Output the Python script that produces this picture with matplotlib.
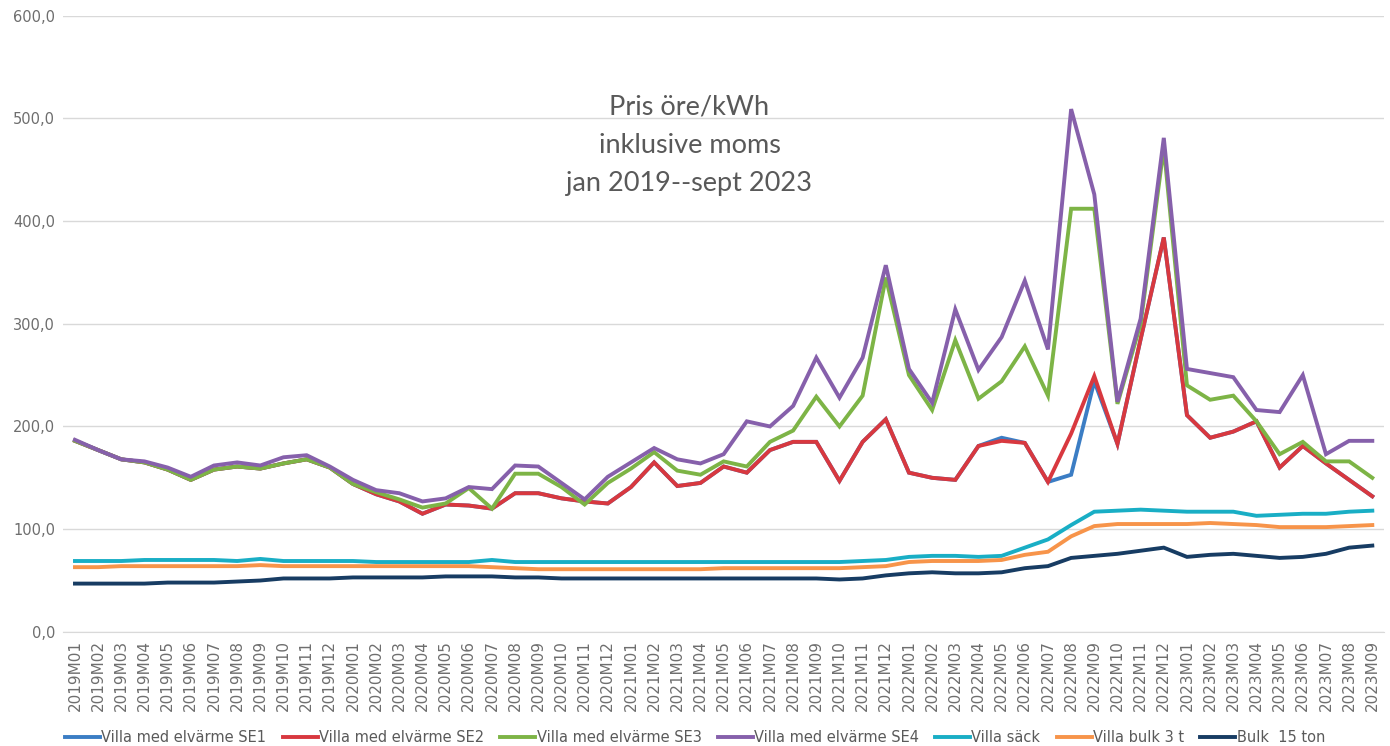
import matplotlib
matplotlib.use('Agg')
import matplotlib.pyplot as plt
import numpy as np

# Months 2019M01 .. 2023M09
months = [f'{y}M{m:02d}' for y in range(2019, 2024) for m in range(1, 13)][:57]

# Pris öre/kWh inkl. moms
se4 = [187, 177, 168, 166, 160, 151, 162, 165, 162, 170, 172, 161,
       148, 138, 135, 127, 130, 141, 139, 162, 161, 145, 129, 151,
       165, 179, 168, 164, 173, 205, 200, 220, 267, 228, 267, 357,
       256, 223, 314, 255, 287, 342, 275, 509, 426, 224, 305, 481,
       256, 252, 248, 216, 214, 250, 173, 186, 186]
se3 = [186, 177, 168, 165, 158, 148, 158, 161, 159, 164, 168, 160,
       144, 136, 129, 121, 125, 140, 120, 154, 154, 141, 124, 145,
       159, 175, 157, 153, 166, 161, 185, 196, 229, 200, 230, 345,
       250, 216, 284, 227, 244, 278, 230, 412, 412, 222, 300, 472,
       240, 226, 230, 205, 173, 185, 166, 166, 150]
se2 = [186, 177, 168, 165, 158, 148, 158, 161, 159, 164, 168, 160,
       144, 134, 127, 115, 124, 123, 120, 135, 135, 130, 127, 125,
       141, 165, 142, 145, 161, 155, 177, 185, 185, 147, 185, 207,
       155, 150, 148, 181, 186, 184, 146, 193, 249, 183, 285, 384,
       211, 189, 195, 205, 160, 181, 164, 148, 132]
se1 = [186, 177, 168, 165, 158, 148, 158, 161, 159, 164, 168, 160,
       144, 134, 127, 115, 124, 123, 120, 135, 135, 130, 127, 125,
       141, 165, 142, 145, 161, 155, 177, 185, 185, 147, 185, 207,
       155, 150, 148, 181, 189, 184, 146, 153, 244, 183, 285, 384,
       211, 189, 195, 205, 160, 181, 164, 148, 132]
sack = [69, 69, 69, 70, 70, 70, 70, 69, 71, 69, 69, 69,
        69, 68, 68, 68, 68, 68, 70, 68, 68, 68, 68, 68,
        68, 68, 68, 68, 68, 68, 68, 68, 68, 68, 69, 70,
        73, 74, 74, 73, 74, 82, 90, 104, 117, 118, 119, 118,
        117, 117, 117, 113, 114, 115, 115, 117, 118]
bulk3 = [63, 63, 64, 64, 64, 64, 64, 64, 65, 64, 64, 64,
         64, 64, 64, 64, 64, 64, 63, 62, 61, 61, 61, 61,
         61, 61, 61, 61, 62, 62, 62, 62, 62, 62, 63, 64,
         68, 69, 69, 69, 70, 75, 78, 93, 103, 105, 105, 105,
         105, 106, 105, 104, 102, 102, 102, 103, 104]
bulk15 = [47, 47, 47, 47, 48, 48, 48, 49, 50, 52, 52, 52,
          53, 53, 53, 53, 54, 54, 54, 53, 53, 52, 52, 52,
          52, 52, 52, 52, 52, 52, 52, 52, 52, 51, 52, 55,
          57, 58, 57, 57, 58, 62, 64, 72, 74, 76, 79, 82,
          73, 75, 76, 74, 72, 73, 76, 82, 84]

series = [
    ('Villa med elvärme SE1', se1, '#3b7dc4'),
    ('Villa med elvärme SE2', se2, '#d8383f'),
    ('Villa med elvärme SE3', se3, '#7db446'),
    ('Villa med elvärme SE4', se4, '#8660ab'),
    ('Villa säck', sack, '#19aec5'),
    ('Villa bulk 3 t', bulk3, '#f7944a'),
    ('Bulk  15 ton', bulk15, '#173c63'),
]

plt.rcParams['font.family'] = ['Liberation Sans Narrow', 'DejaVu Sans']

fig = plt.figure(figsize=(13.9, 7.46), dpi=100)
ax = fig.add_axes([0.0456, 0.153, 0.950, 0.826])

x = np.arange(len(months))
for name, vals, col in series:
    ax.plot(x, vals, color=col, lw=2.8, label=name, solid_joinstyle='miter')

ax.set_xlim(-0.5, len(months) - 0.5)
ax.set_ylim(0, 600)
ax.set_yticks(np.arange(0, 601, 100))
ax.set_yticklabels([f'{v:.1f}'.replace('.', ',') for v in range(0, 601, 100)],
                   color='#6e6e6e', fontsize=10.5)
ax.set_xticks(x)
ax.set_xticklabels(months, rotation=90, color='#6e6e6e', fontsize=11)
ax.tick_params(axis='both', length=0, pad=6)
ax.grid(axis='y', color='#d9d9d9', lw=1)
ax.set_axisbelow(True)
for s in ['top', 'right', 'left']:
    ax.spines[s].set_visible(False)
ax.spines['bottom'].set_color('#d9d9d9')

fig.text(0.496, 0.805, 'Pris öre/kWh\ninklusive moms\njan 2019--sept 2023',
         ha='center', va='center', fontsize=19.5,
         color='#595959', family=['Lato', 'DejaVu Sans'], linespacing=1.65)

fig.legend(loc='lower center', bbox_to_anchor=(0.5, -0.016), ncol=7,
           frameon=False, fontsize=10.5, labelcolor='#5a5a5a',
           handlelength=2.4, columnspacing=1.1, handletextpad=0.1)

fig.savefig('out.png', dpi=100, facecolor='white')
